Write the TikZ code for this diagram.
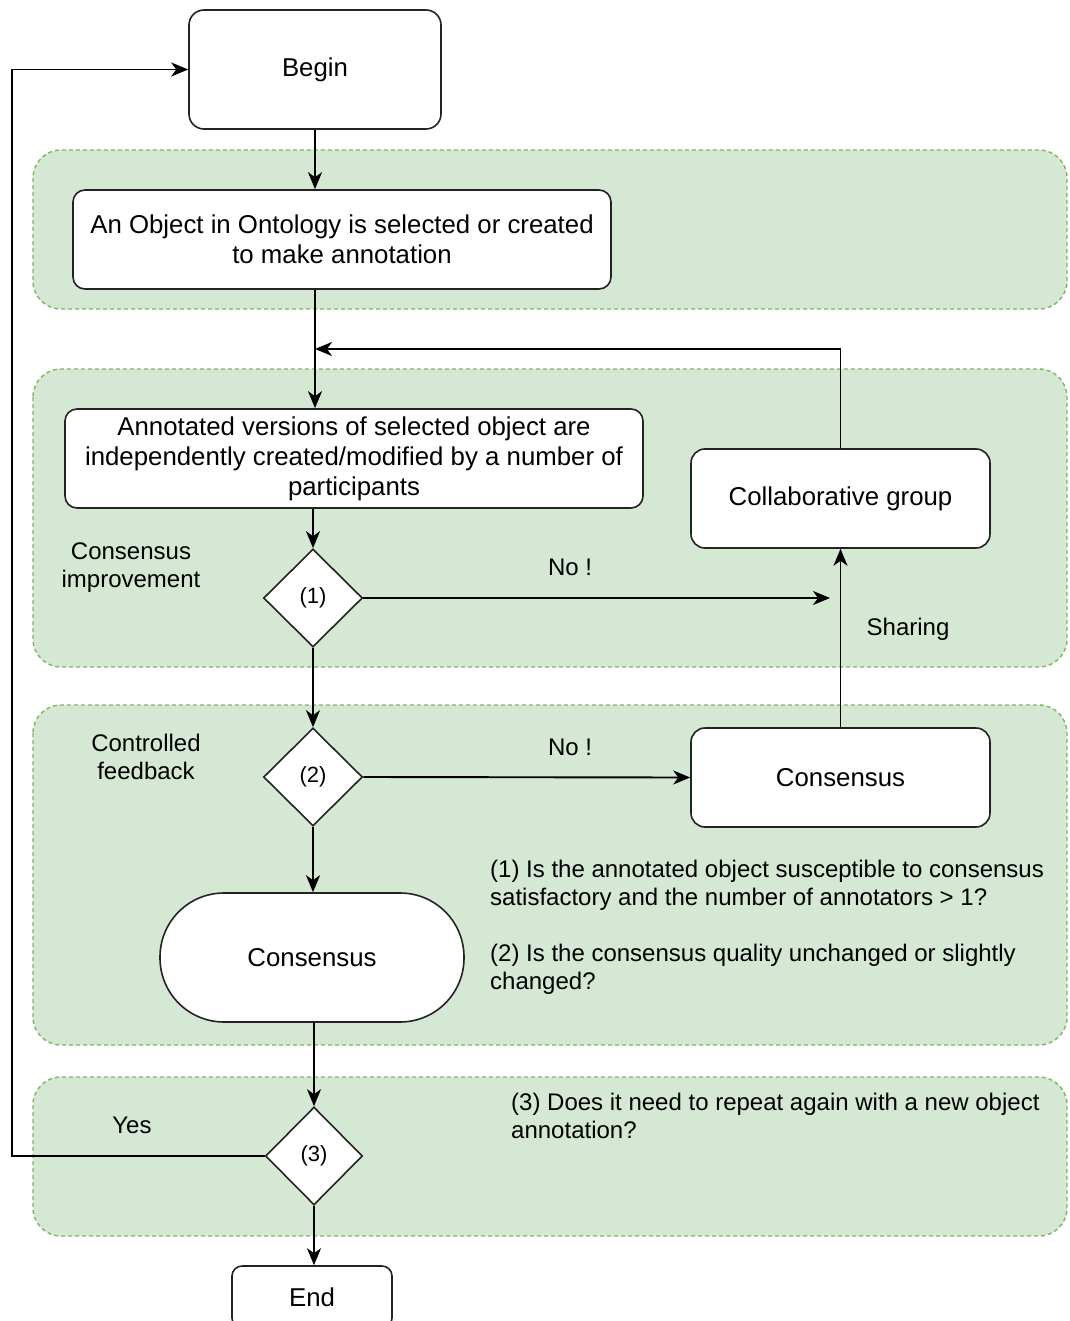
\documentclass[tikz,border=0pt]{standalone}
\usepackage{fontspec}
\setmainfont{Liberation Sans}
\usetikzlibrary{shapes.geometric,arrows.meta}
\definecolor{gfill}{RGB}{213,232,212}
\definecolor{gline}{RGB}{130,179,102}
\definecolor{bline}{RGB}{35,35,35}
\newcommand\fsbig{\fontsize{25.8}{30}\selectfont}
\newcommand\fsmid{\fontsize{24}{28}\selectfont}
\newcommand\fsdia{\fontsize{22}{26}\selectfont}
\tikzset{
  region/.style={fill=gfill, draw=gline, dash pattern=on 4pt off 3pt, line width=1.4pt, rounded corners=28pt},
  box/.style={draw=bline, fill=white, line width=1.6pt, rounded corners=#1, inner sep=0pt, align=center, font=\fsbig},
  dia/.style={diamond, draw=bline, fill=white, line width=1.6pt, inner sep=0pt, minimum width=99pt, minimum height=98pt, font=\fsdia},
  arr/.style={draw, line width=1.9pt, -{Stealth[length=17pt,width=14pt,inset=5pt]}},
  lbl/.style={font=\fsmid, align=center, inner sep=0pt},
  note/.style={font=\fsmid, align=left, anchor=west, inner sep=0pt},
}
\begin{document}
\begin{tikzpicture}[x=1pt,y=-1pt]
\useasboundingbox (0,0) rectangle (1069,1321);
\clip (0,0) rectangle (1069,1321);
% regions
\draw[region] (33,150) rectangle (1067,309);
\draw[region] (33,369) rectangle (1067,667);
\draw[region] (33,705) rectangle (1067,1045);
\draw[region] (33,1077) rectangle (1067,1236);
% nodes
\node[box=15pt, minimum width=252pt, minimum height=119pt] (begin) at (315,69.5) {\raisebox{-3pt}{Begin}};
\node[box=12pt, minimum width=538pt, minimum height=99pt] (obj) at (342,239.5) {An Object in Ontology is selected or created\\to make annotation};
\node[box=12pt, minimum width=578pt, minimum height=99pt] (ann) at (354,458.5) {Annotated versions of selected object are\\independently created/modified by a number of\\participants};
\node[box=14pt, minimum width=299pt, minimum height=99pt] (collab) at (840.5,498.5) {\raisebox{-2pt}{Collaborative group}};
\node[dia] (d1) at (313,598) {(1)};
\node[box=14pt, minimum width=299pt, minimum height=99pt] (cons) at (840.5,777.5) {Consensus};
\node[dia] (d2) at (313,777) {(2)};
\node[box=64pt, minimum width=304pt, minimum height=129pt] (stad) at (312,957.5) {Consensus};
\node[dia, minimum width=97pt] (d3) at (314,1156) {(3)};
\node[box=10pt, minimum width=160pt, minimum height=62pt] (end) at (312,1297) {End};
% labels
\node[lbl] (lci) at (131,568) {Consensus\\improvement};
\node[lbl] (lcf) at (146,757) {Controlled\\feedback};
\node[lbl] (no1) at (570,567) {No !};
\node[lbl] (no2) at (570,747) {No !};
\node[lbl] (sh) at (908,629) {Sharing};
\node[lbl] (yes) at (132,1125) {Yes};
\node[note] (n1) at (490,885) {(1) Is the annotated object susceptible to consensus\\satisfactory and the number of annotators > 1?};
\node[note] (n2) at (490,969) {(2) Is the consensus quality unchanged or slightly\\changed?};
\node[note] (n3) at (511,1116) {(3) Does it need to repeat again with a new object\\annotation?};
% coordinates
\coordinate (m) at (315,349);
\coordinate (nofree) at (830,598);
\coordinate (lp) at (12,1156);
% connectors
\draw[arr] (begin.south) -- (begin.south |- obj.north);
\draw[arr] (begin.south |- obj.south) -- (begin.south |- ann.north);
\draw[arr] (collab.north) |- (m);
\draw[arr] (d1 |- ann.south) -- (d1.north);
\draw[arr] (d1.east) -- (nofree);
\draw[arr] (cons.north) -- (collab.south);
\draw[arr] (d1.south) -- (d2.north);
\draw[arr] (d2.east) -- (cons.west);
\draw[arr] (d2.south) -- (d2.south |- stad.north);
\draw[arr] (d3 |- stad.south) -- (d3.north);
\draw[arr] (d3.west) -- (lp) |- (begin.west);
\draw[arr] (d3.south) -- (d3.south |- end.north);
\end{tikzpicture}
\end{document}
